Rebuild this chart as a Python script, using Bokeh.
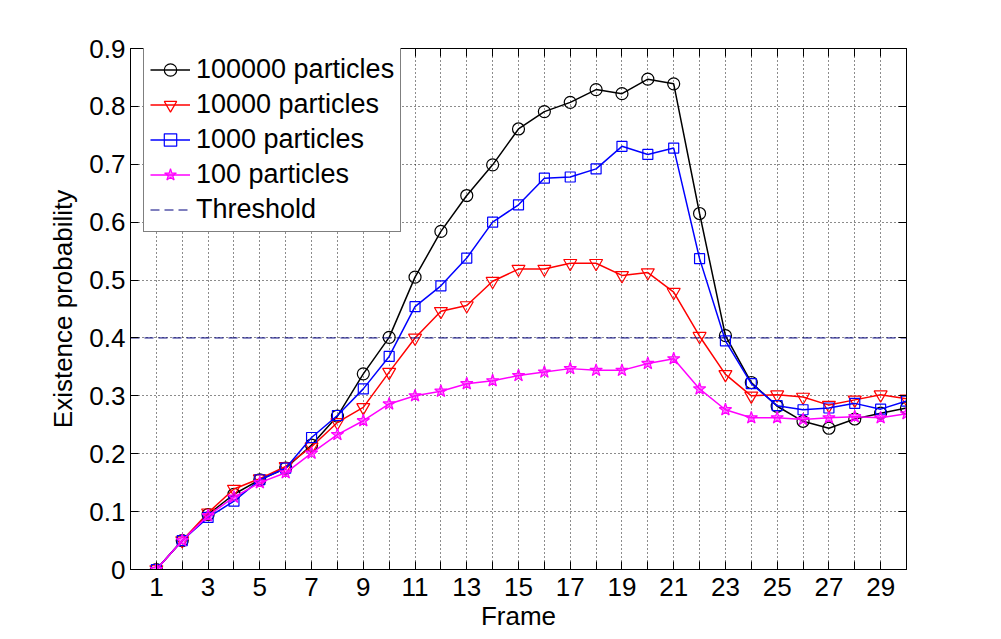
from bokeh.plotting import figure
from bokeh.models import FixedTicker, LinearAxis, Legend, LegendItem, Range1d
from bokeh.embed import file_html
from bokeh.resources import INLINE

# ---- data ----
frames = list(range(1, 31))
p100000 = [0, 0.05, 0.095, 0.13, 0.155, 0.175, 0.215, 0.265, 0.338, 0.401, 0.505, 0.584, 0.646, 0.699, 0.761,
           0.791, 0.807, 0.829, 0.822, 0.847, 0.839, 0.615, 0.404, 0.323, 0.282, 0.256, 0.244, 0.26, 0.27, 0.279]
p10000 = [0, 0.05, 0.098, 0.139, 0.157, 0.178, 0.212, 0.254, 0.280, 0.341, 0.400, 0.446, 0.456, 0.498, 0.519,
          0.519, 0.529, 0.529, 0.508, 0.513, 0.479, 0.403, 0.337, 0.300, 0.302, 0.298, 0.284, 0.293, 0.302, 0.295]
p1000 = [0, 0.05, 0.09, 0.118, 0.155, 0.175, 0.228, 0.266, 0.312, 0.368, 0.454, 0.490, 0.538, 0.600, 0.630,
         0.676, 0.678, 0.692, 0.731, 0.717, 0.728, 0.537, 0.395, 0.321, 0.283, 0.276, 0.279, 0.287, 0.277, 0.291]
p100 = [0, 0.05, 0.093, 0.125, 0.15, 0.167, 0.201, 0.233, 0.257, 0.286, 0.300, 0.308, 0.321, 0.326, 0.335,
        0.341, 0.347, 0.344, 0.344, 0.356, 0.364, 0.312, 0.276, 0.262, 0.262, 0.259, 0.262, 0.264, 0.262, 0.269]
threshold = 0.4
x_limits = [0, 30]
y_limits = [0, 0.9]
x_ticks = list(range(1, 30))
x_tick_labels = [str(t) if t % 2 == 1 else "" for t in x_ticks]
y_ticks = [0, 0.1, 0.2, 0.3, 0.4, 0.5, 0.6, 0.7, 0.8, 0.9]
y_tick_labels = ["0", "0.1", "0.2", "0.3", "0.4", "0.5", "0.6", "0.7", "0.8", "0.9"]
labels = ["100000 particles", "10000 particles", "1000 particles", "100 particles", "Threshold"]

FONT = "Liberation Sans"
FS = "26px"
LFS = "27px"

p = figure(frame_width=776, frame_height=521, output_backend="svg", toolbar_location=None,
           x_range=Range1d(*x_limits), y_range=Range1d(*y_limits),
           min_border_left=130, min_border_top=48, min_border_right=40, min_border_bottom=62)
p.background_fill_color = "white"
p.border_fill_color = "white"
p.outline_line_color = "black"
p.outline_line_width = 1

xt = FixedTicker(ticks=x_ticks)
yt = FixedTicker(ticks=y_ticks)

def style_axis(ax, ticker, overrides):
    ax.ticker = ticker
    ax.major_label_overrides = overrides
    ax.major_tick_in = 8
    ax.major_tick_out = 0
    ax.minor_tick_line_color = None
    ax.axis_line_color = "black"
    ax.major_tick_line_color = "black"
    ax.major_label_text_font = FONT
    ax.major_label_text_color = "black"
    ax.major_label_text_font_size = FS
    ax.axis_label_text_font = FONT
    ax.axis_label_text_font_size = FS
    ax.axis_label_text_font_style = "normal"
    ax.axis_label_text_color = "black"

xo = {t: l for t, l in zip(x_ticks, x_tick_labels)}
yo = {t: l for t, l in zip(y_ticks, y_tick_labels)}

style_axis(p.xaxis[0], xt, xo)
style_axis(p.yaxis[0], yt, yo)
p.xaxis[0].axis_label = "Frame"
p.yaxis[0].axis_label = "Existence probability"
p.xaxis[0].major_label_standoff = 8
p.yaxis[0].major_label_standoff = 5
p.xaxis[0].axis_label_standoff = 2
p.yaxis[0].axis_label_standoff = 8

top = LinearAxis()
style_axis(top, xt, {t: "" for t in x_ticks})
top.major_label_standoff = 0
p.add_layout(top, "above")
right = LinearAxis()
style_axis(right, yt, {t: "" for t in y_ticks})
right.major_label_standoff = 0
p.add_layout(right, "right")

for g in (p.xgrid[0], p.ygrid[0]):
    g.grid_line_color = "black"
    g.grid_line_dash = "1 3"
    g.grid_line_width = 1
    g.grid_line_alpha = 0.9
p.xgrid[0].ticker = xt
p.ygrid[0].ticker = yt

LW = 1.5
items = []
r1 = p.line(frames, p100000, color="black", line_width=LW)
m1 = p.scatter(frames, p100000, marker="circle", size=12, line_color="black", fill_color=None, line_width=1.2)
items.append(LegendItem(label=labels[0], renderers=[r1, m1]))
r2 = p.line(frames, p10000, color="#ff0000", line_width=LW)
m2 = p.scatter(frames, p10000, marker="inverted_triangle", size=13, line_color="#ff0000", fill_color=None, line_width=1.2)
items.append(LegendItem(label=labels[1], renderers=[r2, m2]))
r3 = p.line(frames, p1000, color="#0000ff", line_width=LW)
m3 = p.scatter(frames, p1000, marker="square", size=10, line_color="#0000ff", fill_color=None, line_width=1.2)
items.append(LegendItem(label=labels[2], renderers=[r3, m3]))
r4 = p.line(frames, p100, color="#ff00ff", line_width=LW)
m4 = p.scatter(frames, p100, marker="star", size=13, line_color="#ff00ff", fill_color="#ff00ff", fill_alpha=0.5, line_width=1.2)
items.append(LegendItem(label=labels[3], renderers=[r4, m4]))
r5 = p.line(x_limits, [threshold, threshold], color="#00007f", line_width=1, line_dash="9 5")
items.append(LegendItem(label=labels[4], renderers=[r5]))

legend = Legend(items=items, location=(13, 337))
legend.label_text_font = FONT
legend.label_text_font_size = LFS
legend.label_text_color = "black"
legend.border_line_color = "black"
legend.border_line_width = 1
legend.background_fill_color = "white"
legend.background_fill_alpha = 1
legend.glyph_width = 40
legend.glyph_height = 31
legend.label_height = 31
legend.label_standoff = 6
legend.spacing = 4
legend.padding = 6
legend.margin = 0
p.add_layout(legend, "center")

open("out.html", "w").write(file_html(p, INLINE))
